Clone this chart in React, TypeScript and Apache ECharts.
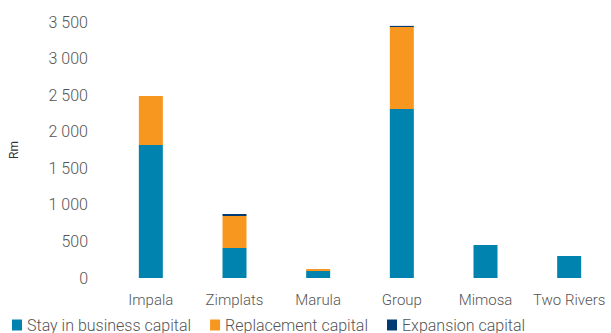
import React, { useEffect, useRef } from "react";
import * as echarts from "echarts";

const categories = ["Impala", "Zimplats", "Marula", "Group", "Mimosa", "Two Rivers"];
const stayInBusiness = [1818, 410, 96, 2311, 451, 301];
const replacement = [670, 438, 27, 1121, 0, 0];
const expansion = [0, 27, 0, 15, 0, 0];
const yTicks = [0, 500, 1000, 1500, 2000, 2500, 3000, 3500];

const fmt = (v: number) => String(v).replace(/\B(?=(\d{3})+(?!\d))/g, " ");

export default function App() {
  const ref = useRef<HTMLDivElement>(null);
  useEffect(() => {
    if (!ref.current) return;
    const chart = echarts.init(ref.current, null, { renderer: "svg" });
    const font = "Roboto, 'Liberation Sans', sans-serif";
    chart.setOption({
      animation: false,
      textStyle: { fontFamily: font },
      grid: { left: 105, right: -7, top: 22, bottom: 55 },
      legend: {
        left: 12,
        top: 317,
        padding: 0,
        itemWidth: 10,
        itemHeight: 11,
        itemGap: 19,
        icon: "rect",
        textStyle: { fontSize: 16, color: "#555", fontWeight: 300, fontFamily: font },
        data: ["Stay in business capital", "Replacement capital", "Expansion capital"],
      },
      xAxis: {
        type: "category",
        data: categories,
        axisLine: { show: false },
        axisTick: { show: false },
        axisLabel: { interval: 0, fontSize: 15, color: "#555", fontWeight: 300, margin: 14, fontFamily: font },
      },
      yAxis: {
        type: "value",
        min: yTicks[0],
        max: yTicks[yTicks.length - 1],
        interval: 500,
        splitLine: { show: false },
        axisLine: { show: false },
        axisTick: { show: false },
        axisLabel: {
          fontSize: 16,
          color: "#555",
          fontWeight: 300,
          margin: 21,
          fontFamily: font,
          formatter: (v: number) => fmt(v),
        },
        name: "Rm",
        nameLocation: "middle",
        nameRotate: 90,
        nameGap: 89,
        nameTextStyle: { fontSize: 12, color: "#333", fontFamily: font },
      },
      series: [
        {
          name: "Stay in business capital",
          type: "bar",
          stack: "c",
          barWidth: 24,
          data: stayInBusiness,
          itemStyle: { color: "#0083AE" },
        },
        {
          name: "Replacement capital",
          type: "bar",
          stack: "c",
          barWidth: 24,
          data: replacement,
          itemStyle: { color: "#F7971F" },
        },
        {
          name: "Expansion capital",
          type: "bar",
          stack: "c",
          barWidth: 24,
          data: expansion,
          itemStyle: { color: "#003B73" },
        },
      ],
    });
    return () => chart.dispose();
  }, []);
  return <div ref={ref} style={{ width: 611, height: 333, position: "absolute", left: 0, top: 0 }} />;
}
